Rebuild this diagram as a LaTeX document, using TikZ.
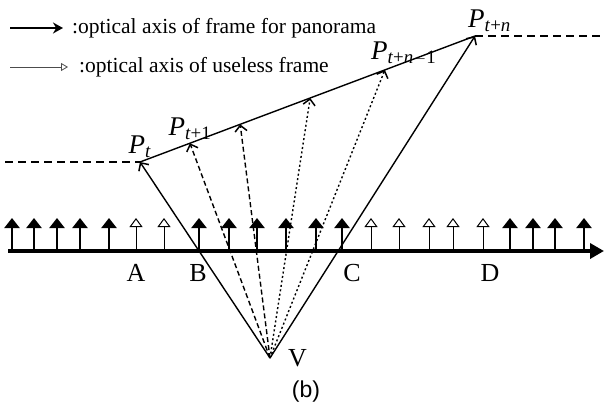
\documentclass[tikz,border=0pt]{standalone}
\usepackage{fontspec}
\setmainfont{Liberation Serif}
\newfontfamily\capfont{Liberation Sans}
\usetikzlibrary{arrows.meta,positioning,calc}

\begin{document}
\begin{tikzpicture}[x=1pt, y=-1pt,
  axisline/.style={line width=4.5pt, -{Triangle[length=14pt, width=15pt]}},
  goodray/.style={line width=2.2pt, -{Triangle[length=10pt, width=15pt]}},
  uselessray/.style={line width=0.8pt, -{Triangle[open, length=9pt, width=13pt, line width=1pt]}},
  sightline/.style={line width=1.4pt, -{Straight Barb[length=6pt, width=12pt, line width=1.5pt]}},
  dashray/.style={sightline, dash pattern=on 5pt off 3pt},
  dotray/.style={sightline, dash pattern=on 2pt off 2.5pt},
  sideline/.style={line width=2pt, dash pattern=on 8pt off 5pt},
  legendtxt/.style={inner sep=0pt, anchor=west, font=\fontsize{21.5}{24}\selectfont},
  ptlabel/.style={inner sep=0pt, font=\fontsize{27}{30}\selectfont},
  letter/.style={inner sep=0pt, font=\fontsize{26}{28}\selectfont},
]
\useasboundingbox (0,0) rectangle (606,407);

% ── Legend ────────────────────────────────────────────────────────────────
\node[legendtxt] (leg1) at (72,28) {:optical axis of frame for panorama};
\node[legendtxt] (leg2) at (79,67) {:optical axis of useless frame};
\coordinate (k1) at (10,28);
\coordinate (k2) at (10,67);
\draw[line width=2.2pt, -{Stealth[length=10pt, width=11pt]}] (k1) -- ([xshift=-9pt]leg1.west);
\draw[line width=0.8pt, gray!60!black, -{Triangle[open, length=7pt, width=8pt]}] (k2) -- ([xshift=-11pt]leg2.west);

% ── Frame arrows on the axis ──────────────────────────────────────────────
\foreach \x in {12,34,57,80,109,199,229,257,286,316,342,510,533,555,584}
  \draw[goodray] (\x,251) -- (\x,218);
\foreach \x in {136,164,371,399,429,453,483}
  \draw[uselessray] (\x,251) -- (\x,218);
\draw[axisline] (8,251) -- (604,251);

\node[letter] (A) at (136,273) {A};
\node[letter] (B) at (198,273) {B};
\node[letter] (C) at (352,273) {C};
\node[letter] (D) at (490,273) {D};

% ── Panorama line ─────────────────────────────────────────────────────────
\coordinate (V)   at (270,358);
\coordinate (Pt)  at (140,162);
\coordinate (Pn)  at (475,36);
\coordinate (P1)  at ($(Pt)!0.149!(Pn)$);
\coordinate (Q2)  at ($(Pt)!0.299!(Pn)$);
\coordinate (Q3)  at ($(Pt)!0.508!(Pn)$);
\coordinate (Pn1) at ($(Pt)!0.731!(Pn)$);
\coordinate (Le)  at (5,162);
\coordinate (Re)  at (603,36);

\draw[line width=1.4pt] (Pt) -- (Pn);
\draw[sideline] (Le) -- (Pt);
\draw[sideline] (Pn) -- (Re);

\draw[sightline] (V) -- (Pt);
\draw[sightline] (V) -- (Pn);
\draw[dashray] (V) -- (P1);
\draw[dashray] (V) -- (Q2);
\draw[dotray]  (V) -- (Q3);
\draw[dotray]  (V) -- (Pn1);

\node[ptlabel, above=4pt of Pt] (lPt) {\textit{P}\textsubscript{\textit{t}}};
\node[ptlabel, above=3pt of P1] (lP1) {\textit{P}\textsubscript{\textit{t}+1}};
\node[ptlabel, above right=5pt and -14pt of Pn1] (lPn1) {\textit{P}\textsubscript{\textit{t}+\textit{n}}\kern-1pt\textsubscript{$-$1}};
\node[ptlabel, above right=4pt and -7pt of Pn] (lPn) {\textit{P}\textsubscript{\textit{t}+\textit{n}}};

\node[letter, right=18pt of V] (lV) {V};
\node[inner sep=0pt, font=\capfont\fontsize{23}{26}\selectfont] (cap) at (306,392) {(b)};
\end{tikzpicture}
\end{document}
